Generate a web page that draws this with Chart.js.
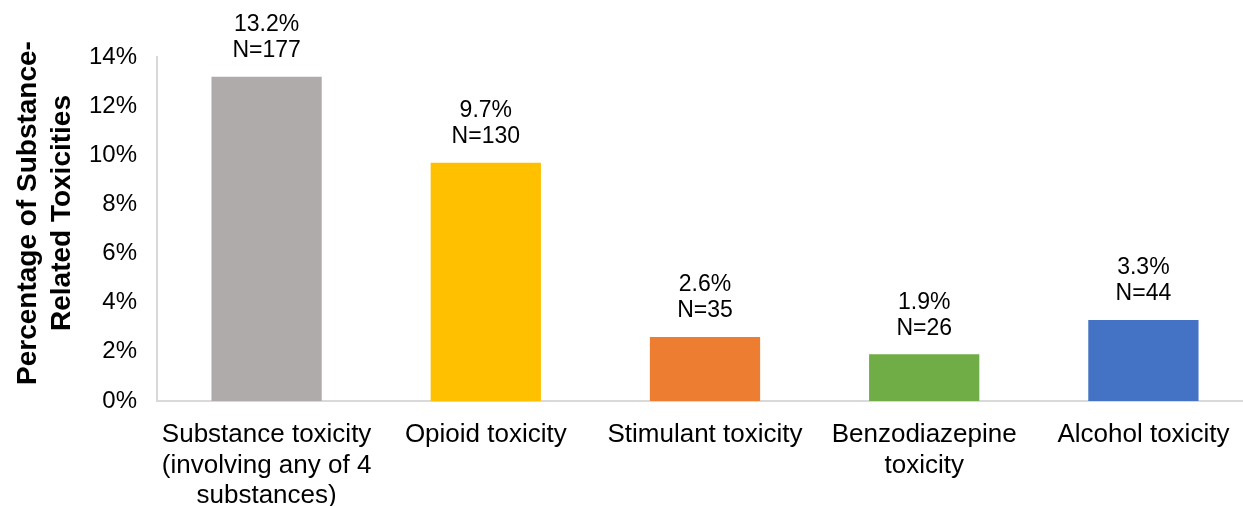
<!DOCTYPE html>
<html>
<head>
<meta charset="utf-8">
<script src="https://cdn.jsdelivr.net/npm/chart.js@4.4.1/dist/chart.umd.min.js"></script>
<style>
  html, body { margin: 0; padding: 0; background: #fff; overflow: hidden; }
  #wrap { width: 1258px; height: 506px; position: relative; }
</style>
</head>
<body>
<div id="wrap"><canvas id="chart"></canvas></div>
<script>
// Share of substance-related toxicities by substance type
const categories = [
  ["Substance toxicity", "(involving any of 4", "substances)"],
  ["Opioid toxicity"],
  ["Stimulant toxicity"],
  ["Benzodiazepine", "toxicity"],
  ["Alcohol toxicity"]
];
const percentages = [13.2, 9.7, 2.6, 1.9, 3.3];
const counts = [177, 130, 35, 26, 44];
const barColors = ["#AFABAB", "#FFC000", "#ED7D31", "#70AD47", "#4472C4"];
const yTicks = [0, 2, 4, 6, 8, 10, 12, 14];
const yTitle = ["Percentage of Substance-", "Related Toxicities"];

const FONT = "'Liberation Sans', Arial, Helvetica, sans-serif";

// Two-line value labels above each bar: percentage and count
const valueLabels = {
  id: 'valueLabels',
  afterDatasetsDraw(chart) {
    const ctx = chart.ctx;
    const meta = chart.getDatasetMeta(0);
    ctx.save();
    ctx.fillStyle = '#000';
    ctx.font = '23px ' + FONT;
    ctx.textAlign = 'center';
    ctx.textBaseline = 'middle';
    meta.data.forEach((bar, i) => {
      const p = bar.getProps(['x', 'y'], true);
      ctx.fillText(percentages[i].toFixed(1) + '%', p.x, p.y - 52);
      ctx.fillText('N=' + counts[i], p.x, p.y - 26);
    });
    ctx.restore();
  }
};

// Rotated two-line y-axis title, set slightly above the plot's middle
const yAxisTitle = {
  id: 'yAxisTitle',
  afterDraw(chart) {
    const ctx = chart.ctx;
    ctx.save();
    ctx.fillStyle = '#000';
    ctx.font = 'bold 28px ' + FONT;
    ctx.textAlign = 'center';
    ctx.textBaseline = 'middle';
    ctx.translate(0, 213);
    ctx.rotate(-Math.PI / 2);
    ctx.fillText(yTitle[0], 0, 28);
    ctx.fillText(yTitle[1], 0, 62);
    ctx.restore();
  }
};

new Chart(document.getElementById('chart'), {
  type: 'bar',
  data: {
    labels: categories,
    datasets: [{
      data: percentages,
      backgroundColor: barColors,
      borderWidth: 0,
      categoryPercentage: 0.503,
      barPercentage: 1
    }]
  },
  options: {
    responsive: true,
    maintainAspectRatio: false,
    animation: false,
    layout: { padding: { top: 57, right: 5, bottom: 0, left: 0 } },
    plugins: {
      legend: { display: false },
      tooltip: { enabled: false }
    },
    scales: {
      x: {
        grid: { display: false, drawTicks: false },
        border: { display: true, color: '#d9d9d9', width: 2 },
        ticks: {
          color: '#000',
          font: { family: FONT, size: 26, lineHeight: 1.17 },
          maxRotation: 0,
          minRotation: 0,
          autoSkip: false,
          padding: 19
        },
        afterFit(scale) { scale.height = 105; }
      },
      y: {
        min: 0,
        max: 14,
        afterBuildTicks(scale) { scale.ticks = yTicks.map(v => ({ value: v })); },
        grid: { display: false, drawTicks: false },
        border: { display: true, color: '#d9d9d9', width: 2 },
        ticks: {
          color: '#000',
          font: { family: FONT, size: 24 },
          padding: 20,
          callback: v => v + '%'
        },
        afterFit(scale) { scale.width = 157; }
      }
    }
  },
  plugins: [valueLabels, yAxisTitle]
});
</script>
</body>
</html>
